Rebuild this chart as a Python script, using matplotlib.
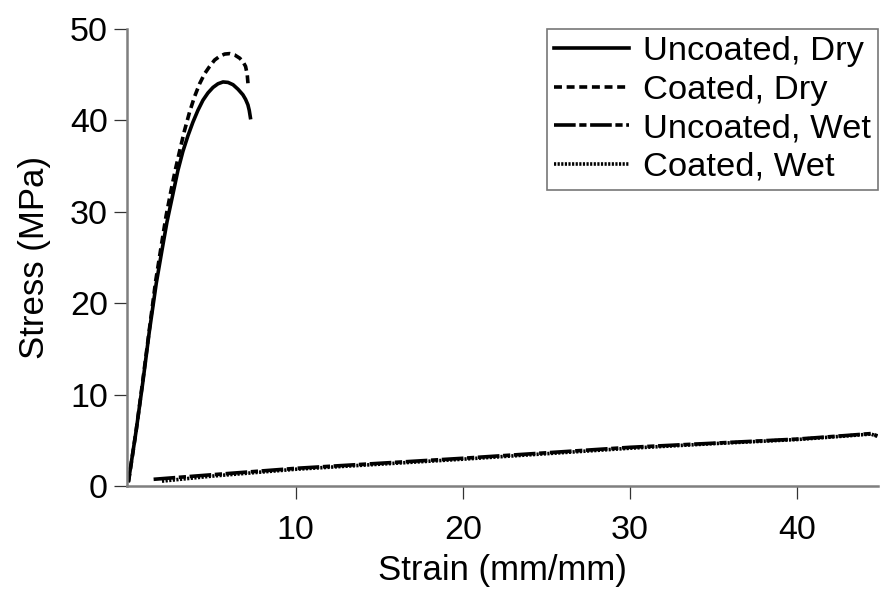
import matplotlib.pyplot as plt

plt.rcParams["font.family"] = ["Liberation Sans", "DejaVu Sans"]

# stress-strain curves (strain in mm/mm, stress in MPa)
uncoated_dry_x = [0.0, 0.45, 0.85, 1.25, 1.66, 2.0, 2.3, 2.65, 2.95, 3.25, 3.55, 3.85, 4.15, 4.45, 4.75, 5.05, 5.35, 5.65, 5.95, 6.25, 6.55, 6.84, 7.0, 7.14, 7.22, 7.29]
uncoated_dry_y = [0.6, 6.0, 11.3, 17.0, 22.2, 25.8, 28.9, 31.9, 34.5, 36.6, 38.3, 39.8, 41.1, 42.2, 43.0, 43.6, 44.0, 44.2, 44.15, 43.9, 43.4, 42.8, 42.3, 41.7, 41.1, 40.3]

coated_dry_x = [0.0, 0.45, 0.85, 1.25, 1.62, 1.95, 2.25, 2.55, 2.8, 3.05, 3.35, 3.65, 3.95, 4.25, 4.55, 4.85, 5.15, 5.45, 5.75, 6.05, 6.35, 6.65, 6.85, 7.0, 7.1, 7.15]
coated_dry_y = [0.5, 6.0, 11.5, 17.2, 22.4, 26.2, 29.6, 32.4, 34.6, 36.6, 38.9, 40.9, 42.6, 44.0, 45.1, 45.9, 46.6, 47.0, 47.25, 47.3, 47.15, 46.8, 46.4, 45.9, 45.0, 43.9]

uncoated_wet_x = [1.5, 5.0, 10.0, 15.0, 20.0, 25.0, 30.0, 35.0, 40.0, 43.0, 44.4, 44.8]
uncoated_wet_y = [0.75, 1.25, 1.95, 2.5, 3.05, 3.65, 4.25, 4.7, 5.15, 5.55, 5.75, 5.5]

coated_wet_x = [2.0, 5.0, 10.0, 15.0, 20.0, 25.0, 30.0, 35.0, 40.0, 43.0, 44.4, 44.8]
coated_wet_y = [0.55, 1.1, 1.85, 2.4, 2.95, 3.55, 4.15, 4.65, 5.1, 5.5, 5.7, 5.45]

fig = plt.figure(figsize=(8.81, 5.9), dpi=100)
ax = fig.add_axes([0.144, 0.176, 0.853, 0.775])

ax.plot(uncoated_dry_x, uncoated_dry_y, color="black", lw=2.6, ls="-", label="Uncoated, Dry")
ax.plot(coated_dry_x, coated_dry_y, color="black", lw=2.6, ls=(0, (2.2, 1.3)), label="Coated, Dry")
ax.plot(uncoated_wet_x, uncoated_wet_y, color="black", lw=2.6, ls=(0, (6, 1, 2, 1)), label="Uncoated, Wet")
ax.plot(coated_wet_x, coated_wet_y, color="black", lw=2.6, ls=(0, (0.6, 0.4)), label="Coated, Wet")

ax.set_xlim(-0.1, 44.85)
ax.set_ylim(0, 50)
ax.set_xticks([10, 20, 30, 40])
ax.set_yticks([0, 10, 20, 30, 40, 50])

for side in ["top", "right"]:
    ax.spines[side].set_visible(False)
for side in ["left", "bottom"]:
    ax.spines[side].set_color("#7f7f7f")
    ax.spines[side].set_linewidth(1.8)

ax.tick_params(direction="out", length=9.5, width=0.9, color="#333333", labelsize=24.5)
ax.tick_params(axis="x", pad=11)
ax.tick_params(axis="y", pad=4)

ax.set_xlabel("Strain (mm/mm)", fontsize=25, labelpad=6)
ax.set_ylabel("Stress (MPa)", fontsize=25, labelpad=14)

leg = ax.legend(loc="upper right", bbox_to_anchor=(1.0, 1.0), fontsize=24.8, frameon=True,
                fancybox=False, handlelength=2.18, handletextpad=0.42,
                borderpad=0.2, labelspacing=0.22, borderaxespad=0.0)
leg.get_frame().set_edgecolor("#555555")
leg.get_frame().set_linewidth(1.2)

fig.savefig("out.png", dpi=100)
